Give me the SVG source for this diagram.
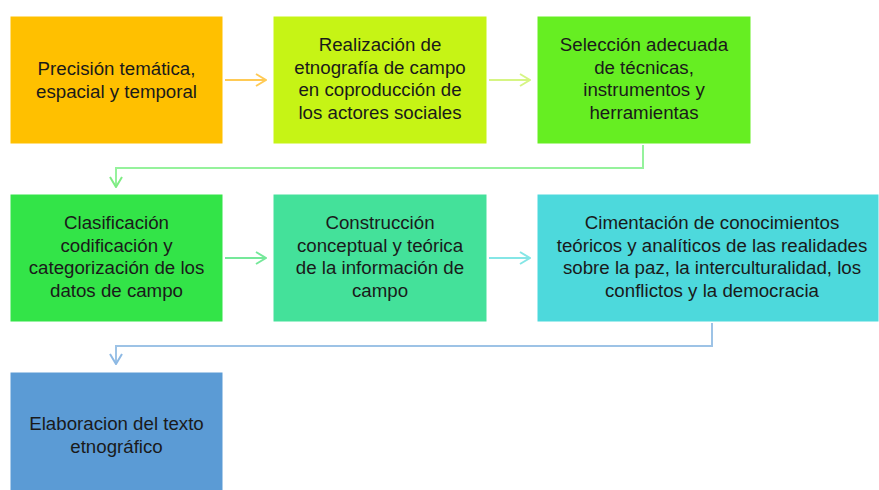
<svg xmlns="http://www.w3.org/2000/svg" width="879" height="490" viewBox="0 0 879 490">
<style>
.box{stroke:#ffffff;stroke-width:1}
.t{font-family:"Liberation Sans",Arial,sans-serif;font-size:18.7px;fill:#1a1a1a;text-anchor:middle}
.c{fill:none;stroke-width:2}
</style>
<defs>
<marker id="m1" markerUnits="userSpaceOnUse" viewBox="0 0 12 14" refX="11" refY="7" markerWidth="12" markerHeight="14" orient="auto"><path d="M1,1 L11,7 L1,13" fill="none" stroke="#FFCA55" stroke-width="2"/></marker>
<marker id="m2" markerUnits="userSpaceOnUse" viewBox="0 0 12 14" refX="11" refY="7" markerWidth="12" markerHeight="14" orient="auto"><path d="M1,1 L11,7 L1,13" fill="none" stroke="#D6F584" stroke-width="2"/></marker>
<marker id="m3" markerUnits="userSpaceOnUse" viewBox="0 0 12 14" refX="11" refY="7" markerWidth="12" markerHeight="14" orient="auto"><path d="M1,1 L11,7 L1,13" fill="none" stroke="#7FEC84" stroke-width="2"/></marker>
<marker id="m4" markerUnits="userSpaceOnUse" viewBox="0 0 12 14" refX="11" refY="7" markerWidth="12" markerHeight="14" orient="auto"><path d="M1,1 L11,7 L1,13" fill="none" stroke="#75E89A" stroke-width="2"/></marker>
<marker id="m5" markerUnits="userSpaceOnUse" viewBox="0 0 12 14" refX="11" refY="7" markerWidth="12" markerHeight="14" orient="auto"><path d="M1,1 L11,7 L1,13" fill="none" stroke="#85E6E6" stroke-width="2"/></marker>
<marker id="m6" markerUnits="userSpaceOnUse" viewBox="0 0 12 14" refX="11" refY="7" markerWidth="12" markerHeight="14" orient="auto"><path d="M1,1 L11,7 L1,13" fill="none" stroke="#8DB9E4" stroke-width="2"/></marker>
</defs>
<rect width="879" height="490" fill="#ffffff"/>
<g id="connectors">
<path class="c" d="M225,80 H266" stroke="#FFCA55" marker-end="url(#m1)"/>
<path class="c" d="M489,80 H530" stroke="#D6F584" marker-end="url(#m2)"/>
<path class="c" d="M643,145 V168 H116 V187" stroke="#95F29C" marker-end="url(#m3)"/>
<path class="c" d="M225,258 H266" stroke="#75E89A" marker-end="url(#m4)"/>
<path class="c" d="M489,258 H530" stroke="#85E6E6" marker-end="url(#m5)"/>
<path class="c" d="M712,323 V346 H116 V364" stroke="#9DC3E6" marker-end="url(#m6)"/>
</g>
<g id="n1">
<rect class="box" x="10" y="16" width="213" height="128" fill="#FFC000"/>
<text class="t" x="116.5" y="75">Precisión temática,</text>
<text class="t" x="116.5" y="97.5">espacial y temporal</text>
</g>
<g id="n2">
<rect class="box" x="273" y="16" width="214" height="128" fill="#C6F415"/>
<text class="t" x="380" y="51">Realización de</text>
<text class="t" x="380" y="73.5">etnografía de campo</text>
<text class="t" x="380" y="96">en coproducción de</text>
<text class="t" x="380" y="118.5">los actores sociales</text>
</g>
<g id="n3">
<rect class="box" x="537" y="16" width="214" height="128" fill="#66EE22"/>
<text class="t" x="644" y="51">Selección adecuada</text>
<text class="t" x="644" y="73.5">de técnicas,</text>
<text class="t" x="644" y="96">instrumentos y</text>
<text class="t" x="644" y="118.5">herramientas</text>
</g>
<g id="n4">
<rect class="box" x="10" y="194" width="213" height="128" fill="#33E448"/>
<text class="t" x="116.5" y="229">Clasificación</text>
<text class="t" x="116.5" y="251.5">codificación y</text>
<text class="t" x="116.5" y="274">categorización de los</text>
<text class="t" x="116.5" y="296.5">datos de campo</text>
</g>
<g id="n5">
<rect class="box" x="273" y="194" width="214" height="128" fill="#44E19A"/>
<text class="t" x="380" y="229">Construcción</text>
<text class="t" x="380" y="251.5">conceptual y teórica</text>
<text class="t" x="380" y="274">de la información de</text>
<text class="t" x="380" y="296.5">campo</text>
</g>
<g id="n6">
<rect class="box" x="537" y="194" width="342" height="128" fill="#4DD9DC"/>
<text class="t" x="712" y="229">Cimentación de conocimientos</text>
<text class="t" x="712" y="251.5">teóricos y analíticos de las realidades</text>
<text class="t" x="712" y="274">sobre la paz, la interculturalidad, los</text>
<text class="t" x="712" y="296.5">conflictos y la democracia</text>
</g>
<g id="n7">
<rect class="box" x="10" y="372" width="213" height="128" fill="#5B9BD5"/>
<text class="t" x="116.5" y="430">Elaboracion del texto</text>
<text class="t" x="116.5" y="452.5">etnográfico</text>
</g>
</svg>
